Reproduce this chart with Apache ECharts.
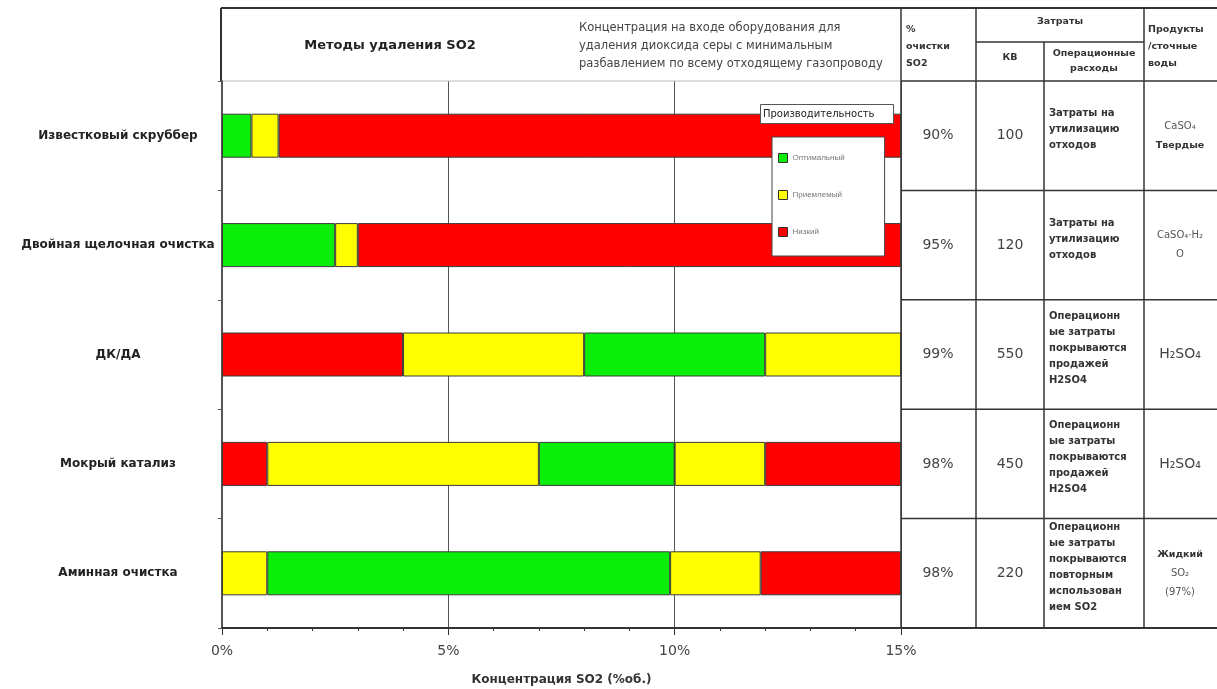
<!DOCTYPE html>
<html>
<head>
<meta charset="utf-8">
<title>Методы удаления SO2</title>
<script src="https://cdn.jsdelivr.net/npm/echarts@6/dist/echarts.min.js"></script>
<style>
  html, body { margin: 0; padding: 0; background: #fff; }
  #chart { width: 1217px; height: 689px; }
</style>
</head>
<body>
<div id="chart"></div>
<script>
  // methods, top to bottom
  const methods = [
    'Известковый скруббер',
    'Двойная щелочная очистка',
    'ДК/ДА',
    'Мокрый катализ',
    'Аминная очистка',
  ];

  // width of each coloured segment along the axis (% SO2), left to right
  const segWidths = [
    [0.65, 0.6, 13.75],
    [2.5, 0.5, 12],
    [4, 4, 4, 3],
    [1, 6, 3, 2, 3],
    [1, 8.9, 2, 3.1],
  ];
  // performance level of each segment
  const segLevels = [
    ['opt', 'acc', 'low'],
    ['opt', 'acc', 'low'],
    ['low', 'acc', 'opt', 'acc'],
    ['low', 'acc', 'opt', 'acc', 'low'],
    ['acc', 'opt', 'acc', 'low'],
  ];

  const levels = ['opt', 'acc', 'low'];
  const levelNames = { opt: 'Оптимальный', acc: 'Приемлемый', low: 'Низкий' };
  const levelColors = { opt: '#0aee0a', acc: '#ffff00', low: '#ff0000' };

  const xTicks = [0, 5, 10, 15];

  // table on the right
  const cleaningPct = ['90%', '95%', '99%', '98%', '98%'];
  const capex = ['100', '120', '550', '450', '220'];
  const opex = [
    'Затраты на\nутилизацию\nотходов',
    'Затраты на\nутилизацию\nотходов',
    'Операционн\nые затраты\nпокрываются\nпродажей\nH2SO4',
    'Операционн\nые затраты\nпокрываются\nпродажей\nH2SO4',
    'Операционн\nые затраты\nпокрываются\nповторным\nиспользован\nием SO2',
  ];
  const products = [
    '{n|CaSO₄}\n{b|Твердые}',
    '{n|CaSO₄·H₂}\n{n|O}',
    '{big|H₂SO₄}',
    '{big|H₂SO₄}',
    '{b|Жидкий}\n{n|SO₂}\n{n|(97%)}',
  ];

  const FONT = '"DejaVu Sans", sans-serif';
  const FONT_NARROW = '"Liberation Sans", Arial, sans-serif';
  const LEFT = 222, RIGHT = 901, TOP = 81, BOTTOM = 628;
  const cols = [901, 976, 1044, 1144, 1217];
  const FRAME_TOP = 8, FRAME_LEFT = 221, SUB_HEAD = 42;

  const chart = echarts.init(document.getElementById('chart'));

  const series = [];
  const maxSegs = Math.max(...segWidths.map((r) => r.length));
  for (let k = 0; k < maxSegs; k++) {
    series.push({
      name: 'seg' + k,
      type: 'bar',
      stack: 'total',
      barWidth: 44,
      silent: true,
      itemStyle: { borderColor: '#3a3a3a', borderWidth: 1 },
      data: segWidths.map((row, i) =>
        k < row.length
          ? { value: row[k], itemStyle: { color: levelColors[segLevels[i][k]] } }
          : '-'
      ),
    });
  }
  levels.forEach((l) => {
    series.push({
      name: levelNames[l],
      type: 'bar',
      stack: 'total',
      data: [],
      itemStyle: { color: levelColors[l] },
    });
  });

  chart.setOption({
    backgroundColor: '#fff',
    animation: false,
    textStyle: { fontFamily: FONT },
    title: [
      {
        text: 'Производительность',
        left: 760,
        top: 104,
        padding: [5, 19, 5, 3],
        backgroundColor: '#fff',
        borderColor: '#555',
        borderWidth: 1,
        textStyle: { fontSize: 10, fontWeight: 'normal', color: '#222', fontFamily: FONT },
      },
      {
        text: 'Методы удаления SO2',
        left: 385,
        top: 34,
        textAlign: 'center',
        textStyle: { fontSize: 13, fontWeight: 'bold', color: '#222', fontFamily: FONT },
      },
      {
        text: 'Концентрация на входе оборудования для\nудаления диоксида серы с минимальным\nразбавлением по всему отходящему газопроводу',
        left: 574,
        top: 14,
        textStyle: { fontSize: 11.5, fontWeight: 'normal', color: '#444', lineHeight: 18, fontFamily: FONT },
      },
    ],
    legend: {
      data: levels.map((l) => levelNames[l]),
      orient: 'vertical',
      left: 772,
      top: 137,
      padding: [16, 40, 19, 6],
      itemGap: 27,
      itemWidth: 9,
      itemHeight: 9,
      icon: 'rect',
      backgroundColor: '#fff',
      borderColor: '#444',
      borderWidth: 1,
      selectedMode: false,
      itemStyle: { borderColor: '#333', borderWidth: 1 },
      textStyle: { fontSize: 8, color: '#777', fontFamily: FONT_NARROW },
    },
    grid: {
      left: LEFT,
      right: 1217 - RIGHT,
      top: TOP,
      bottom: 689 - BOTTOM,
      containLabel: false,
      outerBoundsMode: 'none',
    },
    xAxis: {
      type: 'value',
      min: xTicks[0],
      max: xTicks[xTicks.length - 1],
      interval: xTicks[1] - xTicks[0],
      name: 'Концентрация SO2 (%об.)',
      nameLocation: 'middle',
      nameGap: 46,
      nameTextStyle: { fontSize: 12, fontWeight: 'bold', color: '#333', fontFamily: FONT },
      axisLine: { show: true, lineStyle: { color: '#333', width: 2 } },
      axisTick: { show: true, length: 7, lineStyle: { color: '#333' } },
      minorTick: { show: true, splitNumber: 5, length: 3, lineStyle: { color: '#333' } },
      axisLabel: {
        formatter: (v) => v + '%',
        fontSize: 14,
        color: '#444',
        margin: 16,
        fontFamily: FONT,
      },
      splitLine: { show: true, lineStyle: { color: '#555', width: 1 } },
    },
    yAxis: {
      type: 'category',
      data: methods,
      inverse: true,
      axisLine: { show: true, lineStyle: { color: '#555', width: 2 } },
      axisTick: { show: true, length: 4, lineStyle: { color: '#555' } },
      axisLabel: {
        align: 'center',
        margin: 104,
        fontSize: 12,
        fontWeight: 'bold',
        color: '#222',
        fontFamily: FONT,
      },
      splitLine: { show: false },
    },
    series,
  });

  // table and frame, aligned to the category bands of the y axis
  function line(x1, y1, x2, y2, color, width) {
    return {
      type: 'line',
      silent: true,
      shape: { x1, y1, x2, y2 },
      style: { stroke: color, lineWidth: width || 1 },
    };
  }
  function text(x, y, str, opts) {
    return {
      type: 'text',
      silent: true,
      x,
      y,
      style: Object.assign(
        { text: str, fontFamily: FONT, fill: '#333', fontSize: 10, fontWeight: 'bold' },
        opts
      ),
    };
  }

  const centers = methods.map((m) => chart.convertToPixel({ yAxisIndex: 0 }, m));
  const band = centers[1] - centers[0];
  const elements = [];

  // frame around the header
  elements.push(line(FRAME_LEFT, FRAME_TOP, 1217, FRAME_TOP, '#333', 2));
  elements.push(line(FRAME_LEFT, FRAME_TOP, FRAME_LEFT, TOP, '#333', 2));
  elements.push(line(FRAME_LEFT, TOP, RIGHT, TOP, '#bbb', 1));
  elements.push(line(RIGHT, TOP, 1217, TOP, '#333', 1.5));
  elements.push(line(cols[1], SUB_HEAD, cols[3], SUB_HEAD, '#333', 1.5));
  elements.push(line(cols[0], FRAME_TOP, cols[0], BOTTOM, '#333', 1.5));
  elements.push(line(cols[1], FRAME_TOP, cols[1], BOTTOM, '#333', 1.5));
  elements.push(line(cols[2], SUB_HEAD, cols[2], BOTTOM, '#333', 1.5));
  elements.push(line(cols[3], FRAME_TOP, cols[3], BOTTOM, '#333', 1.5));
  centers.forEach((c, i) => {
    const yb = c + band / 2;
    elements.push(line(RIGHT, yb, 1217, yb, '#333', i === centers.length - 1 ? 2 : 1.5));
  });

  // header
  elements.push(text(906, 47, '%\nочистки\nSO2', { verticalAlign: 'middle', lineHeight: 17, fontSize: 9.5 }));
  elements.push(text(1060, 22, 'Затраты', { align: 'center', verticalAlign: 'middle', fontSize: 9.5 }));
  elements.push(text(1010, 58, 'КВ', { align: 'center', verticalAlign: 'middle', fontSize: 9.5 }));
  elements.push(text(1094, 61, 'Операционные\nрасходы', { align: 'center', verticalAlign: 'middle', lineHeight: 15, fontSize: 9.5 }));
  elements.push(text(1148, 47, 'Продукты\n/сточные\nводы', { verticalAlign: 'middle', lineHeight: 17, fontSize: 9.5 }));

  // rows
  centers.forEach((c, i) => {
    elements.push(text(938, c, cleaningPct[i], {
      align: 'center', verticalAlign: 'middle', fontSize: 14, fontWeight: 'normal', fill: '#444',
    }));
    elements.push(text(1010, c, capex[i], {
      align: 'center', verticalAlign: 'middle', fontSize: 14, fontWeight: 'normal', fill: '#444',
    }));
    elements.push(text(1049, c - 6, opex[i], {
      verticalAlign: 'middle', lineHeight: 16, fill: '#333',
    }));
    elements.push(text(1180, c, products[i], {
      align: 'center',
      verticalAlign: 'middle',
      rich: {
        n: { fontSize: 10, fontWeight: 'normal', fill: '#555', fontFamily: FONT, lineHeight: 19, align: 'center' },
        b: { fontSize: 9.5, fontWeight: 'bold', fill: '#333', fontFamily: FONT, lineHeight: 19, align: 'center' },
        big: { fontSize: 14, fontWeight: 'normal', fill: '#444', fontFamily: FONT, lineHeight: 19, align: 'center' },
      },
    }));
  });

  chart.setOption({ graphic: { elements } });

  window.addEventListener('resize', () => chart.resize());
</script>
</body>
</html>
